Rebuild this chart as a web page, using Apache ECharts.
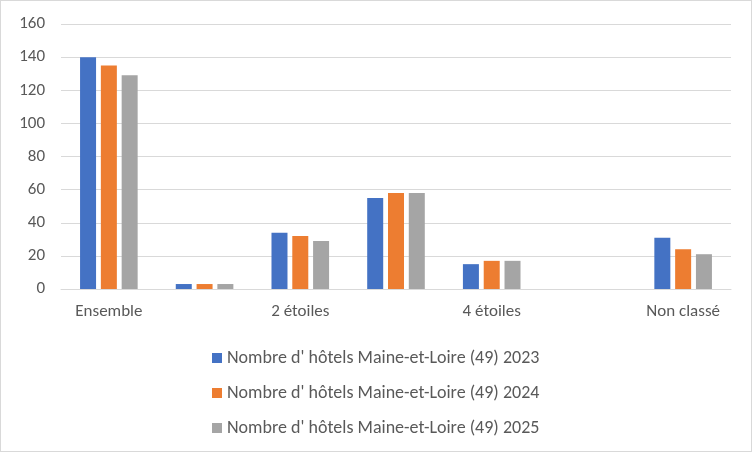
<!DOCTYPE html><html><head><meta charset="utf-8"><script src="https://cdn.jsdelivr.net/npm/echarts@6/dist/echarts.min.js"></script>
<style>body{margin:0}#c{width:750px;height:450px;border:1px solid #d9d9d9}</style></head><body><div id="c"></div><script>
const categories=['Ensemble','1 étoile','2 étoiles','3 étoiles','4 étoiles','5 étoiles','Non classé'];
const s2023=[140,3,34,55,15,0,31];
const s2024=[135,3,32,58,17,0,24];
const s2025=[129,3,29,58,17,0,21];
const names=["Nombre d' hôtels Maine-et-Loire (49) 2023","Nombre d' hôtels Maine-et-Loire (49) 2024","Nombre d' hôtels Maine-et-Loire (49) 2025"];
const colors=['#4472C4','#ED7D31','#A5A5A5'];
const chart=echarts.init(document.getElementById('c'));
const f="Calibri, Carlito, 'Liberation Sans', sans-serif";
chart.setOption({
 animation:false,
 grid:{left:60,right:20,top:23,bottom:162},
 legend:{orient:'vertical',left:206,top:343,itemGap:17,itemWidth:10,itemHeight:10,icon:'rect',textStyle:{fontFamily:f,fontSize:18,color:'#595959'}},
 xAxis:{type:'category',data:categories,axisTick:{show:false},axisLine:{lineStyle:{color:'#d9d9d9'}},axisLabel:{fontFamily:f,fontSize:17,color:'#595959',margin:14}},
 yAxis:{type:'value',min:0,max:160,interval:20,axisLabel:{fontFamily:f,fontSize:17,color:'#595959',margin:16},splitLine:{lineStyle:{color:'#d9d9d9'}}},
 series:[s2023,s2024,s2025].map((d,i)=>({type:'bar',name:names[i],data:d,itemStyle:{color:colors[i]},barWidth:16,barGap:'30%'}))
});
</script></body></html>
